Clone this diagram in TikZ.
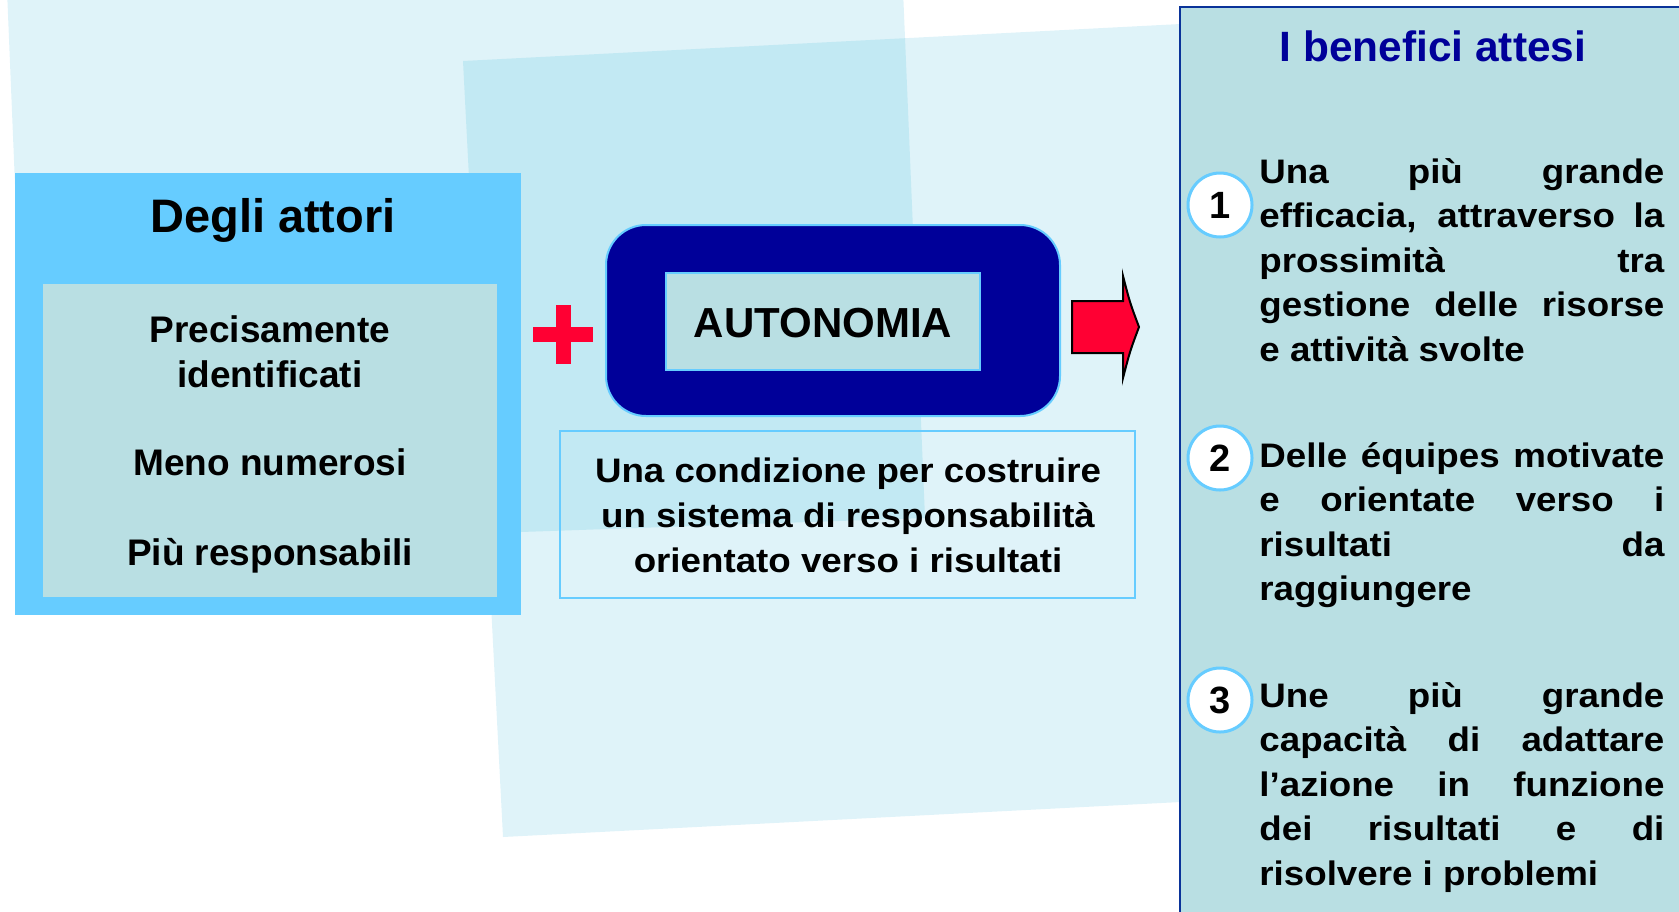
\documentclass[tikz,border=0pt]{standalone}
\usepackage{fontspec}
\setmainfont{Liberation Sans}
\newfontfamily\widesans[FakeStretch=1.08]{Liberation Sans}
\definecolor{bglight}{HTML}{DFF3F9}
\definecolor{bgover}{HTML}{C2E9F3}
\definecolor{skyb}{HTML}{66CCFF}
\definecolor{tealb}{HTML}{B9DFE3}
\definecolor{navyb}{HTML}{000099}
\definecolor{redc}{HTML}{FF0033}
\definecolor{panelb}{HTML}{0A3399}
\newcommand\jline[1]{\makebox[\linewidth][s]{#1}\par}
\newcommand\lastline[1]{#1\par}
\begin{document}
\begin{tikzpicture}[x=0.5pt,y=-0.5pt,
  lefttxt/.style={inner sep=0pt, anchor=base, font=\bfseries\fontsize{18.5}{22.5}\selectfont},
  midtxt/.style={inner sep=0pt, anchor=base, font=\widesans\bfseries\fontsize{17}{22.5}\selectfont},
  numc/.style={circle, draw=skyb, line width=1.5pt, fill=white, minimum size=32pt, inner sep=0pt,
    font=\bfseries\fontsize{19}{19}\selectfont},
  itemtxt/.style={inner sep=0pt, anchor=base west},
]
\useasboundingbox (0,0) rectangle (1679,911);
% background shapes
\fill[bglight] (7,-10) -- (903,-10) -- (925,518) -- (30,549) -- cycle;
\fill[bglight] (463,61) -- (1200,23) -- (1200,801) -- (503,837) -- cycle;
\begin{scope}
  \clip (7,-10) -- (903,-10) -- (925,518) -- (30,549) -- cycle;
  \fill[bgover] (463,61) -- (1200,23) -- (1200,801) -- (503,837) -- cycle;
\end{scope}
% right panel
\draw[panelb, line width=1.2pt, fill=tealb] (1180,7) rectangle (1700,930);
% left box
\fill[skyb] (15,173) rectangle (521,615);
\fill[tealb] (43,284) rectangle (497,597);
% plus sign
\fill[redc] (556,305) rectangle (571,364);
\fill[redc] (533,327) rectangle (593,342);
% autonomia box
\draw[skyb, line width=1pt, fill=navyb, rounded corners=20pt] (606,225) rectangle (1060,416);
\draw[skyb, line width=1.2pt, fill=tealb] (666,273) rectangle (980,370);
% red arrow
\draw[black, line width=1pt, fill=redc, line join=miter]
  (1072,301) -- (1123,301) -- (1123,276) .. controls (1130,303) .. (1139,327)
  .. controls (1130,351) .. (1123,378) -- (1123,353) -- (1072,353) -- cycle;
% condition box
\draw[skyb, line width=1.3pt] (560,431) rectangle (1135,598);

% texts left
\node[lefttxt, font=\bfseries\fontsize{23.5}{28}\selectfont] (degli) at (273,232) {Degli attori};
\node[lefttxt] (prec) at (270,342) {Precisamente};
\node[lefttxt] (ident) at (270,387) {identificati};
\node[lefttxt] (meno) at (270,475) {Meno numerosi};
\node[lefttxt] (piu) at (270,565) {Più responsabili};
% autonomia
\node[lefttxt, font=\bfseries\fontsize{21}{25}\selectfont] (auto) at (823,337) {AUTONOMIA};
% condition text
\node[midtxt] (cond1) at (848,482) {Una condizione per costruire};
\node[midtxt] (cond2) at (848,527) {un sistema di responsabilità};
\node[midtxt] (cond3) at (848,572) {orientato verso i risultati};

% right panel texts
\node[inner sep=0pt, anchor=base, text=navyb, font=\bfseries\fontsize{21.2}{25}\selectfont] (title) at (1433,61) {I benefici attesi};

\node[numc] (n1) at (1220,205) {1};
\node[numc] (n2) at (1220,458) {2};
\node[numc] (n3) at (1220,700) {3};

\node[itemtxt] (item1) at (1259,183) {\parbox[t]{202.5pt}{\widesans\bfseries\fontsize{17}{22.3}\selectfont
  \jline{Una più grande}
  \jline{efficacia, attraverso la}
  \jline{prossimità tra}
  \jline{gestione delle risorse}
  \lastline{e attività svolte}}};
\node[itemtxt] (item2) at (1259,467) {\parbox[t]{202.5pt}{\widesans\bfseries\fontsize{17}{22.3}\selectfont
  \jline{Delle équipes motivate}
  \jline{e orientate verso i}
  \jline{risultati da}
  \lastline{raggiungere}}};
\node[itemtxt] (item3) at (1259,707) {\parbox[t]{202.5pt}{\widesans\bfseries\fontsize{17}{22.3}\selectfont
  \jline{Une più grande}
  \jline{capacità di adattare}
  \jline{l’azione in funzione}
  \jline{dei risultati e di}
  \lastline{risolvere i problemi}}};
\end{tikzpicture}
\end{document}
